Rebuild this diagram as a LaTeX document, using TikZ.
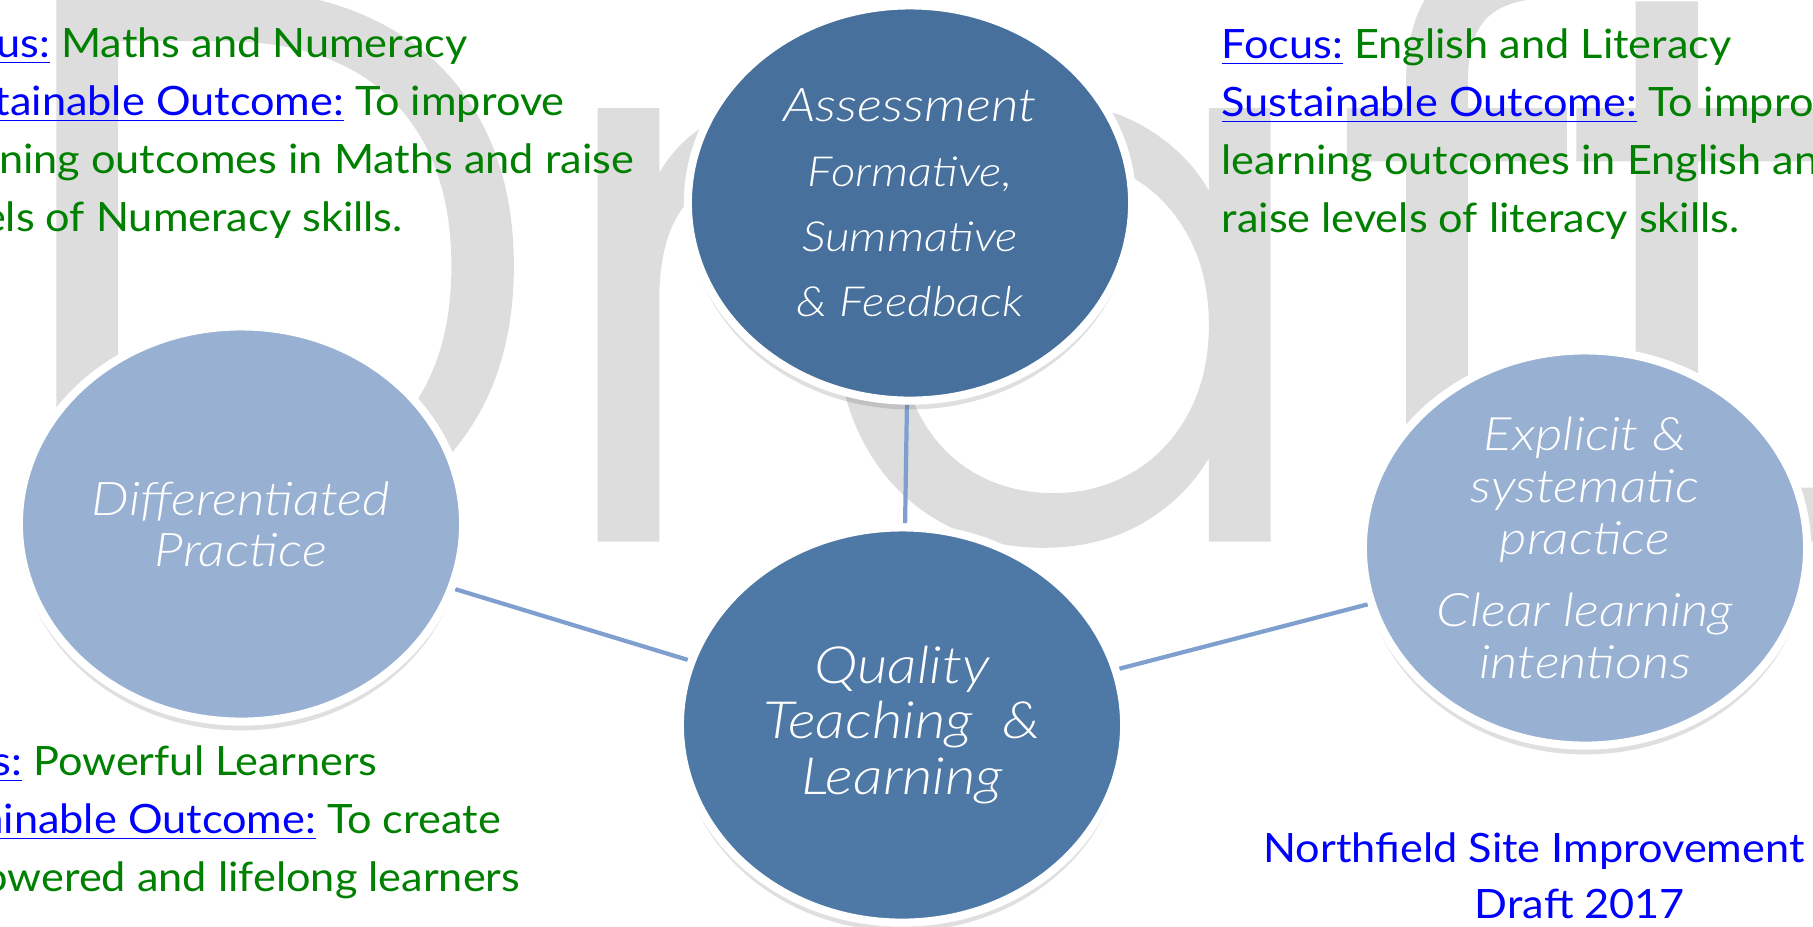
\documentclass[tikz,border=0pt]{standalone}
\usepackage{fontspec}
\setmainfont{Lato}[FakeStretch=1.07]
\IfFontExistsTF{Lato Light Italic}
	{\newfontfamily\blobfont{Lato Light Italic}[FakeStretch=1.15]}
	{\newfontfamily\blobfont{Lato}[UprightFont=* Italic, FakeStretch=1.15]}
\IfFontExistsTF{Poppins Light}
	{\newfontfamily\wmfont{Poppins Light}[FakeBold=0.9]}
	{\newfontfamily\wmfont{Poppins}}
\usepackage{tikz}
\usetikzlibrary{shapes.geometric,shadows}
\definecolor{darkblob}{RGB}{71,112,156}
\definecolor{midblob}{RGB}{78,121,166}
\definecolor{lightblob}{RGB}{152,177,211}
\definecolor{linkline}{RGB}{127,160,206}
\definecolor{wmgrey}{RGB}{221,221,221}
\definecolor{txtgreen}{RGB}{0,128,0}
\definecolor{txtblue}{RGB}{0,0,255}
\newcommand{\focuslbl}[1]{{\color{txtblue}\underline{#1}}}
\pgfdeclarelayer{wmlayer}
\pgfdeclarelayer{linklayer}
\pgfsetlayers{wmlayer,linklayer,main}

\begin{document}
\begin{tikzpicture}[x=0.01cm, y=-0.01cm,
		blob/.style={ellipse, draw=white, line width=2.3pt, inner sep=0pt, align=center, text=white,
			minimum width=4.44cm, minimum height=3.95cm,
			drop shadow={shadow xshift=0pt, shadow yshift=-2.5pt, opacity=.18, fill=black!70}},
		link/.style={draw=linkline, line width=1.2pt},
		wm/.style={text=wmgrey, anchor=base, inner sep=0pt, font=\wmfont\fontsize{222}{222}\selectfont},
		note/.style={anchor=north west, align=left, inner sep=0pt, text=txtgreen, font=\fontsize{11.5}{16.5}\selectfont}]
			%\draw [help lines] (0,0) grid (1813,926);
			\useasboundingbox (0,0) rectangle (1813,926);
			\begin{pgfonlayer}{wmlayer}
				\node [wm] (wmD) at (273,538) {D};
				\node [wm] (wmr) at (680,538) {r};
				\node [wm] (wma) at (1066,538) {a};
				\node [wm] (wmf) at (1460,538) {f};
				\node [wm] (wmt) at (1700,538) {t};
			\end{pgfonlayer}
			\node [note] (mathsnote) at (-72,27) {\focuslbl{Focus:} Maths and Numeracy\\
				\focuslbl{Sustainable Outcome:} To improve\\
				learning outcomes in Maths and raise\\
				levels of Numeracy skills.};
			\node [note] (englishnote) at (1221,28) {\focuslbl{Focus:} English and Literacy\\
				\focuslbl{Sustainable Outcome:} To improve\\
				learning outcomes in English and\\
				raise levels of literacy skills.};
			\node [note] (learnernote) at (-100,745) {\focuslbl{Focus:} Powerful Learners\\
				\focuslbl{Sustainable Outcome:} To create\\
				empowered and lifelong learners};
			\node [blob, fill=darkblob, font=\blobfont\fontsize{11.8}{18.5}\selectfont] (assess) at (910,203)
				{{\fontsize{13.2}{18.5}\selectfont Assessment}\\ Formative,\\ Summative\\ \& Feedback};
			\node [blob, fill=midblob, font=\blobfont\fontsize{14.6}{15.9}\selectfont] (quality) at (902,725)
				{Quality\\ Teaching \ \&\\ Learning};
			\node [blob, fill=lightblob, font=\blobfont\fontsize{13.2}{14.5}\selectfont] (diffprac) at (241,524)
				{Differentiated\\ Practice};
			\node [blob, fill=lightblob, font=\blobfont\fontsize{13.1}{14.7}\selectfont] (explicit) at (1585,548)
				{Explicit \&\\ systematic\\ practice\\[6pt] Clear learning\\ intentions};
			\begin{pgfonlayer}{linklayer}
				\draw [link] (assess) -- (quality);
				\draw [link] (diffprac) -- (quality);
				\draw [link] (quality) -- (explicit);
			\end{pgfonlayer}
			\node [anchor=base, text=txtblue, font=\fontsize{11.5}{16.5}\selectfont] (siteplan) at (1534,862) {Northfield Site Improvement};
			\node [anchor=base, text=txtblue, font=\fontsize{11.5}{16.5}\selectfont] (draftyear) at (1580,918) {Draft 2017};
	\end{tikzpicture}
\end{document}
